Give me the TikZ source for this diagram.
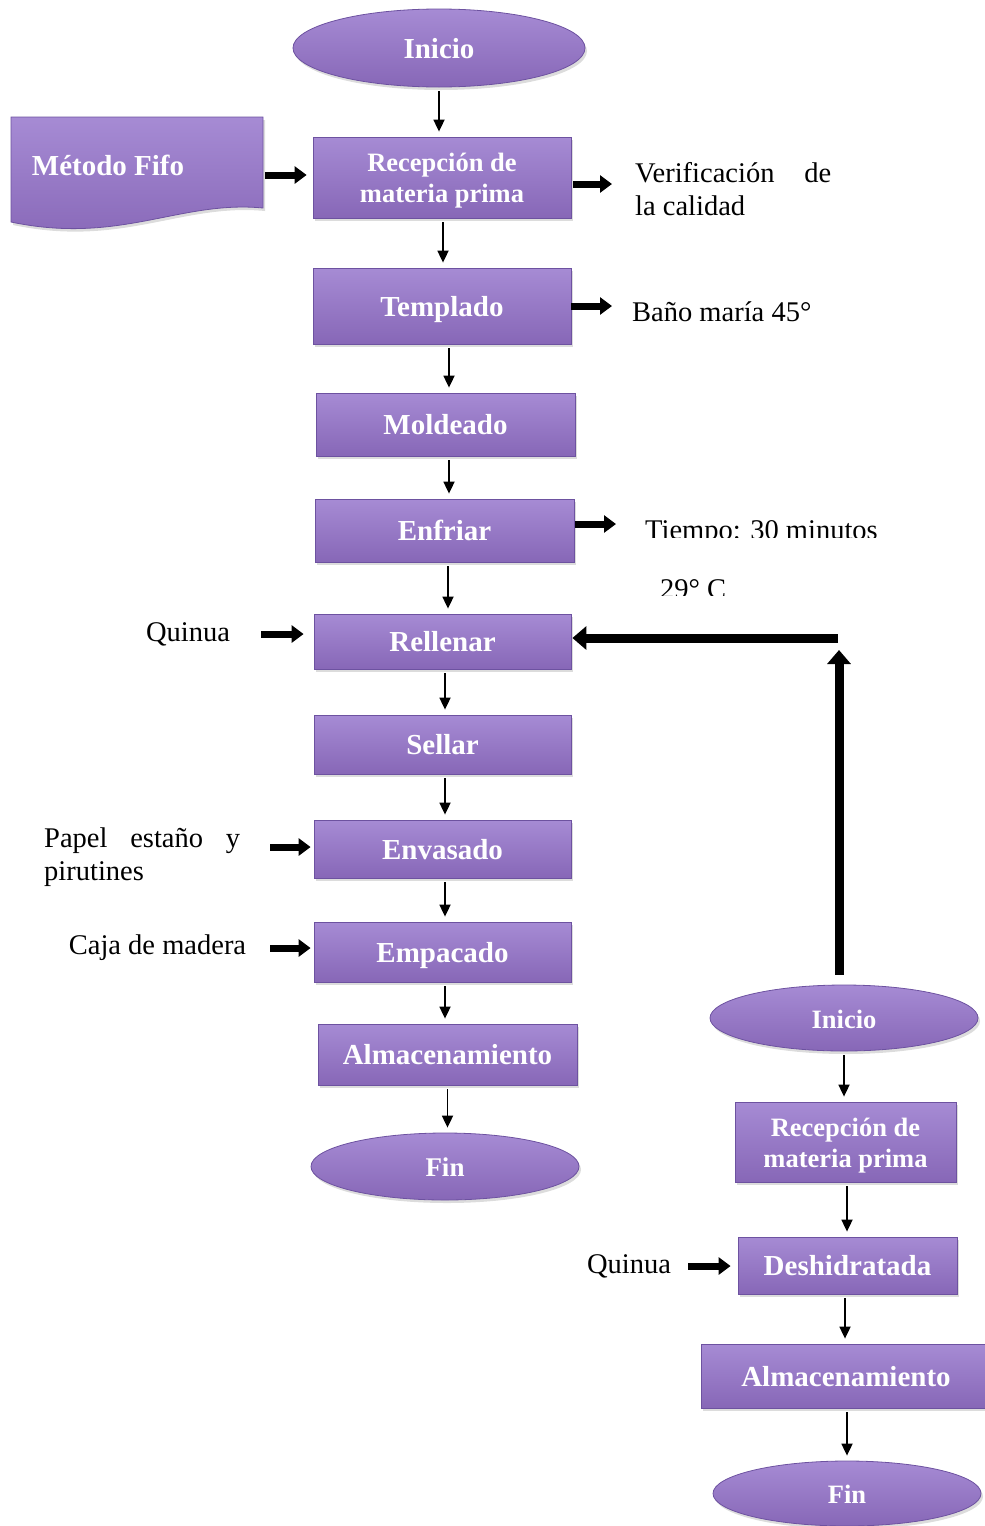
\documentclass[tikz,border=0pt]{standalone}
\usepackage{fontspec}
\setmainfont{Liberation Serif}
\usetikzlibrary{shapes.geometric,arrows.meta,shadows}
\definecolor{procTop}{HTML}{A68BD4}
\definecolor{procBot}{HTML}{8767B7}
\definecolor{procEdge}{HTML}{6D52A0}
\begin{document}
\begin{tikzpicture}[x=1pt,y=-1pt,
  fill look/.style={top color=procTop, bottom color=procBot, draw=procEdge, line width=0.8pt,
    drop shadow={shadow xshift=2pt, shadow yshift=-3pt, opacity=0.28}},
  proc base/.style={rectangle, fill look, text=white, inner sep=0pt, align=center},
  proc/.style={proc base, text height=20pt, text depth=0pt,
    font=\bfseries\fontsize{29}{31}\selectfont},
  proc2/.style={proc base, text height=51pt, text depth=1pt,
    font=\bfseries\fontsize{26.5}{31}\selectfont},
  term/.style={proc, ellipse},
  plain/.style={inner sep=0pt, text=black, font=\fontsize{28.5}{33}\selectfont},
  flow/.style={-{Triangle[width=11pt,length=12pt]}, line width=1.8pt, shorten <=4pt, shorten >=5pt},
  feed/.style={-{Triangle[width=17pt,length=12pt]}, line width=7pt},
  back/.style={-{Triangle[width=23pt,length=14pt]}, line width=9pt}]
\useasboundingbox (0,0) rectangle (985,1526);

% ---- main column ----
\node[term, minimum width=292pt, minimum height=78pt] (ini1) at (439,48) {Inicio};
\node[proc2, minimum width=258pt, minimum height=81pt] (rec1) at (442,177.5) {Recepción de\\materia prima};
\node[proc, minimum width=258pt, minimum height=76pt] (tem) at (442,306) {Templado};
\node[proc, minimum width=259pt, minimum height=63pt] (mol) at (445.5,424.5) {Moldeado};
\node[proc, minimum width=259pt, minimum height=63pt] (enf) at (444.5,530.5) {Enfriar};
\node[proc, minimum width=257pt, minimum height=55pt] (rel) at (442.5,641.5) {Rellenar};
\node[proc, minimum width=257pt, minimum height=59pt] (sel) at (442.5,744.5) {Sellar};
\node[proc, minimum width=257pt, minimum height=58pt] (env) at (442.5,849) {Envasado};
\node[proc, minimum width=257pt, minimum height=60pt] (emp) at (442.5,952) {Empacado};
\node[proc, minimum width=259pt, minimum height=61pt] (alm1) at (447.5,1054.5) {Almacenamiento};
\node[term, minimum width=268pt, minimum height=67pt, font=\bfseries\fontsize{27}{31}\selectfont] (fin1) at (445,1166.5) {Fin};

% ---- second column ----
\node[term, minimum width=268pt, minimum height=66pt, font=\bfseries\fontsize{26.5}{31}\selectfont] (ini2) at (844,1018) {Inicio};
\node[proc2, minimum width=221pt, minimum height=80pt] (rec2) at (845.5,1142) {Recepción de\\materia prima};
\node[proc, minimum width=219pt, minimum height=57pt] (des) at (847.5,1265.5) {Deshidratada};
\node[proc, minimum width=290pt, minimum height=64pt] (alm2) at (846,1376) {Almacenamiento};
\node[term, minimum width=268pt, minimum height=65pt, font=\bfseries\fontsize{26.5}{31}\selectfont] (fin2) at (847,1493.5) {Fin};

% ---- document shape ----
\path[fill look] (11,117) -- (263,117) -- (263,208) .. controls (180,200) and (120,245) .. (11,222) -- cycle;
\node[text=white, inner sep=0pt, font=\bfseries\fontsize{29}{31}\selectfont] (fifo) at (108,165) {Método Fifo};
\coordinate (fifoE) at (263,175);

% ---- side notes ----
\node[plain, anchor=north west, align=left] (ver) at (635,162) {\makebox[196pt][s]{Verificación de}\\la calidad};
\node[plain, anchor=base west] (bano) at (632,321) {Baño maría 45°};
\begin{scope}
  \clip (640,500) rectangle (900,537);
  \node[plain, anchor=base west] (tie) at (645,539) {Tiempo: 30 minutos};
\end{scope}
\begin{scope}
  \clip (650,560) rectangle (760,595);
  \node[plain, anchor=base west] (temp) at (660,598) {29° C};
\end{scope}
\node[plain] (q1) at (188,634) {Quinua};
\node[plain, anchor=north west, align=left] (pap) at (44,828) {\makebox[196pt][s]{Papel estaño y}\\pirutines};
\node[plain] (caja) at (157.5,948) {Caja de madera};
\node[plain] (q2) at (629,1266) {Quinua};

% ---- flow arrows ----
\draw[flow] (ini1.south) -- (ini1.south |- rec1.north);
\draw[flow] ([xshift=1pt]rec1.south) -- ([xshift=1pt]rec1.south |- tem.north);
\draw[flow] ([xshift=7pt]tem.south) -- ([xshift=7pt]tem.south |- mol.north);
\draw[flow] ([xshift=3.5pt]mol.south) -- ([xshift=3.5pt]mol.south |- enf.north);
\draw[flow] ([xshift=3.5pt]enf.south) -- ([xshift=3.5pt]enf.south |- rel.north);
\draw[flow] ([xshift=2.5pt]rel.south) -- ([xshift=2.5pt]rel.south |- sel.north);
\draw[flow] ([xshift=2.5pt]sel.south) -- ([xshift=2.5pt]sel.south |- env.north);
\draw[flow] ([xshift=2.5pt]env.south) -- ([xshift=2.5pt]env.south |- emp.north);
\draw[flow] ([xshift=2.5pt]emp.south) -- ([xshift=2.5pt]emp.south |- alm1.north);
\draw[flow] (alm1.south) -- (alm1.south |- fin1.north);
\draw[flow] (ini2.south) -- (ini2.south |- rec2.north);
\draw[flow] ([xshift=1.5pt]rec2.south) -- ([xshift=1.5pt]rec2.south |- des.north);
\draw[flow] ([xshift=-2.5pt]des.south) -- ([xshift=-2.5pt]des.south |- alm2.north);
\draw[flow] ([xshift=1pt]alm2.south) -- ([xshift=1pt]alm2.south |- fin2.north);

% ---- input / output arrows ----
\draw[feed, shorten <=2pt, shorten >=6pt] (fifoE) -- (fifoE -| rec1.west);
\coordinate (recOut) at ([yshift=-6.5pt]rec1.east);
\draw[feed, shorten <=2pt, shorten >=23pt] (recOut) -- (recOut -| ver.west);
\draw[feed, shorten <=0pt, shorten >=20pt] (tem.east) -- (tem.east -| bano.west);
\coordinate (enfOut) at ([yshift=6.5pt]enf.east);
\draw[feed, shorten <=1pt, shorten >=29pt] (enfOut) -- (enfOut -| tie.west);
\draw[feed, shorten <=31pt, shorten >=10pt] (q1.east) -- (q1.east -| rel.west);
\coordinate (papOut) at ([yshift=2pt]env.west -| pap.east);
\draw[feed, shorten <=30pt, shorten >=3pt] (papOut) -- (papOut -| env.west);
\draw[feed, shorten <=24pt, shorten >=3pt] (caja.east) -- (caja.east -| emp.west);
\draw[feed, shorten <=17pt, shorten >=7pt] (q2.east) -- (q2.east -| des.west);

% ---- return line to Rellenar ----
\coordinate (fbTop) at (839,650);
\coordinate (fbEnd) at (838,638);
\draw[back, shorten <=10pt] (ini2.north -| fbTop) -- (fbTop);
\draw[back, shorten >=1pt] (fbEnd) -- (fbEnd -| rel.east);
\end{tikzpicture}
\end{document}
